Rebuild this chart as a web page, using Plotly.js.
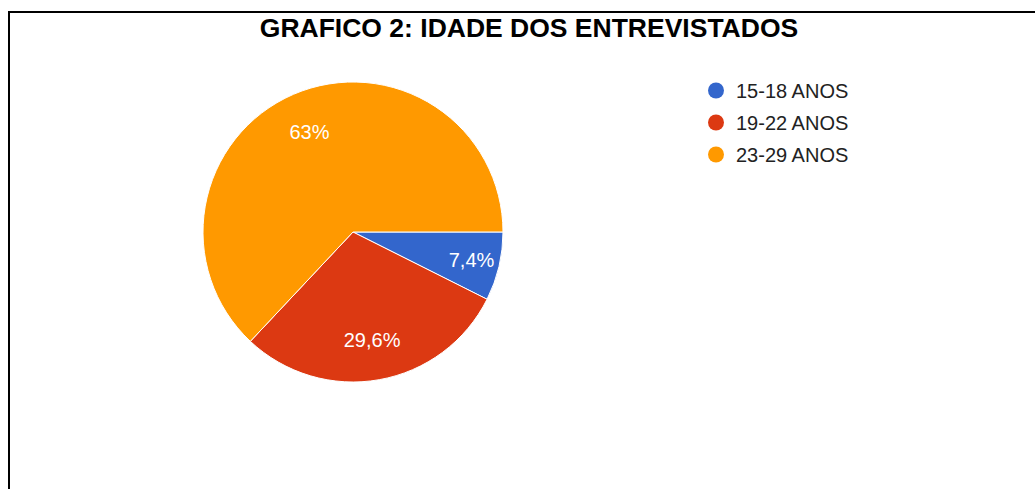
<!DOCTYPE html>
<html>
<head>
<meta charset="utf-8">
<script src="https://cdn.plot.ly/plotly-3.0.1.min.js"></script>
<style>
  html, body { margin: 0; padding: 0; background: #ffffff; overflow: hidden; }
  #chart { position: absolute; left: 0; top: 0; width: 1035px; height: 489px; }
  .frame-top { position: absolute; left: 8px; top: 11px; width: 1027px; height: 2px; background: #000; pointer-events: none; }
  .frame-left { position: absolute; left: 8px; top: 11px; width: 2px; height: 478px; background: #000; pointer-events: none; }
</style>
</head>
<body>
<div id="chart"></div>
<div class="frame-top"></div>
<div class="frame-left"></div>
<script>
const categories = ['15-18 ANOS', '19-22 ANOS', '23-29 ANOS'];
const values = [7.4, 29.6, 63];
const sliceLabels = ['7,4%', '29,6%', '63%'];
const colors = ['#3366CC', '#DC3912', '#FF9900'];
const chartTitle = 'GRAFICO 2: IDADE DOS ENTREVISTADOS';

const W = 1035, H = 489;
const cx = 353, cy = 232, r = 150;
const domain = {
  x: [(cx - r) / W, (cx + r) / W],
  y: [(H - (cy + r)) / H, (H - (cy - r)) / H]
};
const clear = categories.map(() => 'rgba(0,0,0,0)');
const labelFont = { family: 'Liberation Sans, Arial, sans-serif', size: 20, color: '#ffffff' };

const pie = {
  type: 'pie',
  labels: categories,
  values: values,
  textinfo: 'none',
  sort: false,
  direction: 'clockwise',
  rotation: 90,
  marker: { colors: colors, line: { color: '#ffffff', width: 1 } },
  showlegend: false,
  hoverinfo: 'label+percent',
  domain: domain
};

// transparent rings on top, used only to place the slice labels like the original
function labelRing(hole, keep) {
  return {
    type: 'pie',
    labels: categories,
    values: values,
    text: sliceLabels.map((t, i) => keep.includes(i) ? t : ''),
    textinfo: 'text',
    textposition: 'inside',
    insidetextorientation: 'horizontal',
    hole: hole,
    sort: false,
    direction: 'clockwise',
    rotation: 90,
    marker: { colors: clear, line: { width: 0 } },
    textfont: labelFont,
    showlegend: false,
    hoverinfo: 'skip',
    domain: domain
  };
}

const legendTraces = categories.map((c, i) => ({
  type: 'scatter',
  mode: 'markers',
  x: [null],
  y: [null],
  name: c,
  legendgroup: 'g' + i,
  marker: { color: colors[i], size: 20, symbol: 'circle' },
  showlegend: true,
  hoverinfo: 'skip'
}));

const layout = {
  width: W,
  height: H,
  margin: { l: 0, r: 0, t: 0, b: 0 },
  paper_bgcolor: '#ffffff',
  plot_bgcolor: '#ffffff',
  title: {
    text: '<b>' + chartTitle + '</b>',
    font: { family: 'Liberation Sans, Arial, sans-serif', size: 26.5, color: '#000000' },
    xref: 'container', yref: 'container',
    x: 529 / W, y: 1 - 28 / H,
    xanchor: 'center', yanchor: 'middle'
  },
  xaxis: { visible: false },
  yaxis: { visible: false },
  legend: {
    x: 696 / W, y: 1 - 71 / H,
    xanchor: 'left', yanchor: 'top',
    font: { family: 'Liberation Sans, Arial, sans-serif', size: 20, color: '#222222' },
    itemsizing: 'trace',
    tracegroupgap: 3,
    bgcolor: 'rgba(0,0,0,0)'
  },
  showlegend: true
};

Plotly.newPlot('chart', [pie, labelRing(0.46, [1, 2]), labelRing(0.3, [0])].concat(legendTraces), layout, { displayModeBar: false, staticPlot: true });
</script>
</body>
</html>
